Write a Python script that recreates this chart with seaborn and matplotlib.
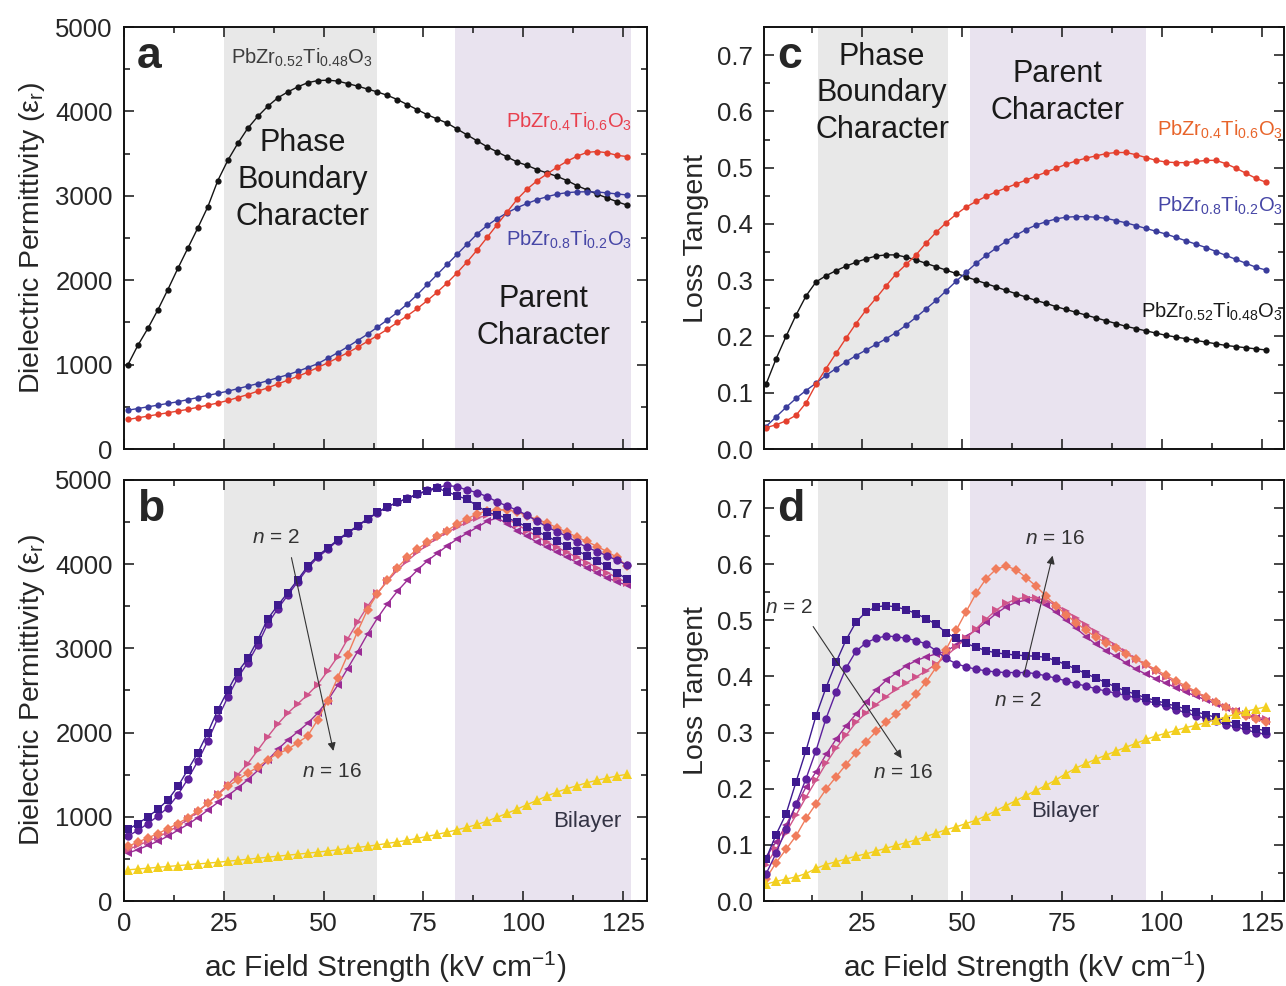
import numpy as np
import pandas as pd
import matplotlib
matplotlib.use("Agg")
import matplotlib.pyplot as plt
from matplotlib.ticker import AutoMinorLocator, MultipleLocator, FormatStrFormatter
import seaborn as sns

# ---------------- data ----------------
field = np.arange(1, 126.1, 2.5)  # ac field strength (kV/cm)

# Panel a: dielectric permittivity of parent films
eps_pzt5248 = [1000, 1230, 1430, 1650, 1890, 2140, 2380, 2620, 2870, 3180, 3420, 3620, 3800, 3940, 4060, 4160, 4230,
               4290, 4340, 4365, 4370, 4360, 4330, 4300, 4265, 4230, 4190, 4140, 4080, 4020, 3960, 3910, 3860, 3790,
               3720, 3650, 3580, 3520, 3460, 3400, 3360, 3310, 3270, 3230, 3180, 3120, 3070, 3020, 2975, 2930, 2890]
eps_pzt4060 = [350, 370, 390, 410, 430, 450, 470, 495, 520, 545, 575, 610, 645, 685, 725, 770, 815, 860, 910, 965,
               1020, 1080, 1140, 1205, 1275, 1345, 1420, 1500, 1580, 1665, 1760, 1860, 1970, 2090, 2220, 2360, 2510,
               2660, 2810, 2960, 3080, 3180, 3260, 3340, 3410, 3470, 3515, 3525, 3510, 3480, 3465]
eps_pzt8020 = [460, 480, 500, 520, 540, 560, 585, 610, 635, 660, 685, 715, 745, 775, 810, 845, 880, 920, 965, 1010,
               1075, 1140, 1210, 1285, 1360, 1445, 1530, 1620, 1720, 1830, 1950, 2070, 2190, 2310, 2430, 2550, 2650,
               2730, 2800, 2860, 2910, 2955, 2990, 3020, 3038, 3046, 3048, 3045, 3035, 3022, 3010]

# Panel c: loss tangent of parent films
tan_pzt5248 = [0.115, 0.160, 0.200, 0.238, 0.272, 0.297, 0.308, 0.317, 0.325, 0.332, 0.338, 0.343, 0.345, 0.345,
               0.341, 0.336, 0.330, 0.324, 0.318, 0.312, 0.306, 0.300, 0.294, 0.288, 0.282, 0.276, 0.270, 0.264,
               0.259, 0.253, 0.248, 0.243, 0.238, 0.233, 0.228, 0.223, 0.218, 0.214, 0.210, 0.206, 0.202, 0.199,
               0.196, 0.193, 0.190, 0.187, 0.184, 0.182, 0.180, 0.178, 0.176]
tan_pzt4060 = [0.038, 0.043, 0.050, 0.060, 0.082, 0.115, 0.143, 0.170, 0.197, 0.223, 0.247, 0.268, 0.290, 0.311,
               0.328, 0.345, 0.366, 0.385, 0.402, 0.417, 0.430, 0.440, 0.449, 0.457, 0.464, 0.471, 0.478, 0.485,
               0.492, 0.499, 0.506, 0.512, 0.517, 0.521, 0.525, 0.527, 0.527, 0.523, 0.518, 0.513, 0.510, 0.509,
               0.509, 0.511, 0.513, 0.513, 0.507, 0.499, 0.490, 0.481, 0.474]
tan_pzt8020 = [0.040, 0.057, 0.074, 0.090, 0.104, 0.117, 0.131, 0.143, 0.155, 0.166, 0.176, 0.186, 0.196, 0.207,
               0.220, 0.234, 0.249, 0.264, 0.281, 0.298, 0.314, 0.330, 0.344, 0.357, 0.369, 0.380, 0.390, 0.398,
               0.404, 0.409, 0.412, 0.413, 0.413, 0.412, 0.410, 0.406, 0.402, 0.397, 0.392, 0.387, 0.382, 0.376,
               0.370, 0.364, 0.358, 0.351, 0.344, 0.337, 0.330, 0.323, 0.318]

# Panel b: dielectric permittivity of superlattices and bilayer
eps_s1 = [850, 920, 1000, 1090, 1200, 1360, 1560, 1760, 2000, 2270, 2500, 2720, 2880, 3100, 3350, 3510, 3660,
          3815, 3975, 4100, 4190, 4290, 4375, 4455, 4540, 4615, 4685, 4735, 4780, 4830, 4870, 4900, 4860, 4810,
          4770, 4690, 4620, 4580, 4550, 4500, 4440, 4390, 4330, 4270, 4215, 4160, 4100, 4040, 3975, 3900, 3820]
eps_s2 = [770, 840, 920, 1010, 1110, 1260, 1450, 1660, 1900, 2170, 2420, 2650, 2830, 3040, 3290, 3470, 3630,
          3790, 3950, 4080, 4175, 4280, 4365, 4450, 4535, 4610, 4680, 4735, 4785, 4835, 4880, 4915, 4935, 4920,
          4880, 4850, 4800, 4740, 4690, 4640, 4580, 4510, 4440, 4385, 4330, 4260, 4200, 4150, 4100, 4045, 3990]
eps_s3 = [570, 610, 660, 710, 770, 840, 910, 990, 1080, 1170, 1250, 1340, 1440, 1550, 1670, 1800, 1910, 2010,
          2110, 2230, 2380, 2560, 2760, 2960, 3170, 3360, 3530, 3680, 3810, 3930, 4040, 4130, 4220, 4300, 4370,
          4440, 4510, 4550, 4480, 4400, 4330, 4260, 4200, 4140, 4080, 4020, 3960, 3900, 3840, 3790, 3750]
eps_s4 = [610, 660, 710, 760, 820, 890, 970, 1060, 1160, 1270, 1380, 1500, 1630, 1790, 1950, 2100, 2230, 2340,
          2450, 2570, 2730, 2900, 3110, 3310, 3500, 3660, 3800, 3930, 4040, 4140, 4230, 4310, 4380, 4440, 4500,
          4550, 4580, 4590, 4540, 4470, 4400, 4330, 4260, 4200, 4140, 4080, 4020, 3960, 3900, 3840, 3780]
eps_s5 = [650, 700, 750, 800, 860, 920, 990, 1070, 1160, 1260, 1360, 1440, 1520, 1590, 1680, 1750, 1800, 1880,
          1960, 2150, 2380, 2650, 2920, 3200, 3460, 3650, 3810, 3960, 4080, 4180, 4260, 4330, 4400, 4480, 4540,
          4600, 4630, 4645, 4645, 4620, 4575, 4530, 4490, 4430, 4380, 4320, 4270, 4210, 4150, 4080, 3975]
eps_bilayer = [370, 380, 390, 400, 410, 420, 430, 440, 450, 460, 472, 484, 496, 508, 520, 532, 544, 556, 568, 580,
               594, 608, 622, 636, 650, 666, 684, 702, 722, 744, 768, 792, 818, 846, 876, 910, 950, 995, 1042,
               1092, 1145, 1197, 1248, 1295, 1335, 1370, 1405, 1435, 1460, 1485, 1505]

# Panel d: loss tangent of superlattices and bilayer
tan_s1 = [0.075, 0.118, 0.155, 0.212, 0.268, 0.330, 0.380, 0.425, 0.465, 0.497, 0.515, 0.524, 0.526, 0.524, 0.519,
          0.512, 0.503, 0.493, 0.478, 0.468, 0.459, 0.452, 0.446, 0.442, 0.440, 0.438, 0.437, 0.436, 0.434, 0.428,
          0.421, 0.413, 0.405, 0.397, 0.389, 0.381, 0.374, 0.368, 0.362, 0.357, 0.352, 0.347, 0.342, 0.337, 0.332,
          0.327, 0.321, 0.316, 0.311, 0.307, 0.303]
tan_s2 = [0.048, 0.085, 0.128, 0.172, 0.218, 0.268, 0.325, 0.372, 0.415, 0.445, 0.460, 0.468, 0.472, 0.471, 0.468,
          0.464, 0.458, 0.446, 0.432, 0.423, 0.417, 0.413, 0.410, 0.408, 0.407, 0.407, 0.407, 0.405, 0.401, 0.397,
          0.392, 0.387, 0.383, 0.378, 0.374, 0.370, 0.366, 0.362, 0.357, 0.352, 0.347, 0.341, 0.335, 0.330, 0.325,
          0.320, 0.314, 0.310, 0.305, 0.300, 0.297]
tan_s3 = [0.078, 0.105, 0.135, 0.170, 0.203, 0.230, 0.261, 0.288, 0.312, 0.333, 0.354, 0.376, 0.393, 0.406, 0.419,
          0.428, 0.435, 0.440, 0.445, 0.456, 0.471, 0.483, 0.497, 0.512, 0.524, 0.532, 0.536, 0.536, 0.527, 0.514,
          0.500, 0.486, 0.471, 0.457, 0.446, 0.436, 0.424, 0.413, 0.404, 0.396, 0.388, 0.380, 0.372, 0.365, 0.358,
          0.351, 0.344, 0.338, 0.332, 0.326, 0.321]
tan_s4 = [0.065, 0.092, 0.122, 0.153, 0.185, 0.215, 0.245, 0.272, 0.295, 0.318, 0.335, 0.350, 0.364, 0.377, 0.388,
          0.399, 0.410, 0.422, 0.436, 0.452, 0.468, 0.485, 0.502, 0.518, 0.530, 0.538, 0.541, 0.540, 0.535, 0.527,
          0.517, 0.504, 0.492, 0.479, 0.467, 0.455, 0.443, 0.431, 0.420, 0.409, 0.399, 0.389, 0.380, 0.371, 0.362,
          0.354, 0.346, 0.339, 0.333, 0.328, 0.324]
tan_s5 = [0.040, 0.068, 0.092, 0.116, 0.147, 0.173, 0.199, 0.221, 0.243, 0.264, 0.283, 0.302, 0.318, 0.333, 0.349,
          0.368, 0.390, 0.416, 0.448, 0.482, 0.515, 0.548, 0.574, 0.591, 0.597, 0.590, 0.576, 0.561, 0.543, 0.526,
          0.510, 0.496, 0.482, 0.470, 0.460, 0.450, 0.440, 0.431, 0.422, 0.412, 0.402, 0.392, 0.383, 0.373, 0.363,
          0.354, 0.345, 0.337, 0.330, 0.324, 0.318]
tan_bilayer = [0.030, 0.035, 0.039, 0.043, 0.049, 0.058, 0.065, 0.070, 0.075, 0.080, 0.084, 0.089, 0.094, 0.099,
               0.104, 0.109, 0.115, 0.121, 0.127, 0.132, 0.138, 0.144, 0.152, 0.161, 0.170, 0.179, 0.188, 0.197,
               0.206, 0.216, 0.227, 0.237, 0.245, 0.253, 0.260, 0.267, 0.274, 0.281, 0.288, 0.294, 0.299, 0.304,
               0.309, 0.313, 0.318, 0.323, 0.328, 0.333, 0.338, 0.342, 0.346]

# shaded regions (kV/cm)
span_pb_eps = (25, 63.5)
span_par_eps = (83, 127)
span_pb_tan = (14, 46.5)
span_par_tan = (52, 96)

# ---------------- style ----------------
sns.set_style("ticks")
plt.rcParams["font.family"] = ["Liberation Sans", "DejaVu Sans"]
plt.rcParams["mathtext.fontset"] = "custom"
plt.rcParams["mathtext.rm"] = "Liberation Sans"
plt.rcParams["mathtext.it"] = "Liberation Sans:italic"
plt.rcParams["mathtext.bf"] = "Liberation Sans:bold"
plt.rcParams["mathtext.default"] = "regular"

C_BLACK = "#141414"
C_RED = "#e4402e"
C_BLUE = "#3a3c9c"
C_GRAY_SPAN = "#e8e8e8"
C_PURP_SPAN = "#e9e3ef"
SL_COLORS = ["#3e1a8f", "#5c209d", "#9b2c95", "#cf548a", "#f07c5c"]
C_BILAYER = "#f2cf1f"
TXT = "#1a1a1a"

fig = plt.figure(figsize=(12.86, 9.86), dpi=100)
axa = fig.add_axes([0.0964, 0.5446, 0.4067, 0.4280])
axb = fig.add_axes([0.0964, 0.0862, 0.4067, 0.4270])
axc = fig.add_axes([0.5941, 0.5446, 0.4044, 0.4280])
axd = fig.add_axes([0.5941, 0.0862, 0.4044, 0.4270])


def draw(ax, y, color, marker, ms):
    df = pd.DataFrame({"field": field, "val": y})
    sns.lineplot(data=df, x="field", y="val", ax=ax, color=color, marker=marker, markersize=ms,
                 markeredgewidth=0, linewidth=1.0, estimator=None, sort=False, legend=False)


def style(ax, ylim, ymajor, xlim, show_x):
    ax.set_xlim(*xlim)
    ax.set_ylim(*ylim)
    ax.xaxis.set_major_locator(MultipleLocator(25))
    ax.xaxis.set_minor_locator(AutoMinorLocator(2))
    ax.yaxis.set_major_locator(MultipleLocator(ymajor))
    ax.yaxis.set_minor_locator(AutoMinorLocator(2))
    ax.tick_params(which="both", direction="in", top=True, right=True, width=1.2, labelsize=18.5, pad=8)
    ax.tick_params(which="major", length=7)
    ax.tick_params(which="minor", length=4)
    for s in ax.spines.values():
        s.set_linewidth(1.4)
        s.set_color("#111111")
    if not show_x:
        ax.tick_params(labelbottom=False)
        ax.set_xlabel("")
    else:
        ax.set_xlabel("ac Field Strength (kV cm$^{-1}$)", fontsize=21.5, labelpad=10)


def sl_panel(ax, curves):
    for yv, c, m in curves:
        draw(ax, yv, c, m, 6 if m != "D" else 5)


# ---- panel a ----
axa.axvspan(*span_pb_eps, color=C_GRAY_SPAN, lw=0, zorder=0)
axa.axvspan(*span_par_eps, color=C_PURP_SPAN, lw=0, zorder=0)
draw(axa, eps_pzt5248, C_BLACK, "o", 4.5)
draw(axa, eps_pzt8020, C_BLUE, "o", 4.5)
draw(axa, eps_pzt4060, C_RED, "o", 4.5)
style(axa, (0, 5000), 1000, (0, 131), False)
axa.set_ylabel("Dielectric Permittivity (ε$_\\mathrm{r}$)", fontsize=20.5, labelpad=6)
axa.yaxis.set_major_formatter(FormatStrFormatter("%d"))
axa.text(0.025, 0.93, "a", transform=axa.transAxes, fontsize=32, fontweight="bold", va="center", ha="left")
axa.text(44.5, 4640, "PbZr$_{0.52}$Ti$_{0.48}$O$_3$", color="#3c3c3c", fontsize=14.5, ha="center", va="center")
axa.text(44.75, 3190, "Phase\nBoundary\nCharacter", fontsize=22, ha="center", va="center", linespacing=1.3,
         color=TXT)
axa.text(105, 1560, "Parent\nCharacter", fontsize=22, ha="center", va="center", linespacing=1.3, color=TXT)
axa.text(127.3, 3880, "PbZr$_{0.4}$Ti$_{0.6}$O$_3$", color="#e8404e", fontsize=14.5, ha="right", va="center")
axa.text(127.3, 2480, "PbZr$_{0.8}$Ti$_{0.2}$O$_3$", color="#4646a6", fontsize=14.5, ha="right", va="center")

# ---- panel b ----
axb.axvspan(*span_pb_eps, color=C_GRAY_SPAN, lw=0, zorder=0)
axb.axvspan(*span_par_eps, color=C_PURP_SPAN, lw=0, zorder=0)
sl_panel(axb, [(eps_s3, SL_COLORS[2], "<"), (eps_s4, SL_COLORS[3], ">"), (eps_s5, SL_COLORS[4], "D"),
               (eps_s2, SL_COLORS[1], "o"), (eps_s1, SL_COLORS[0], "s")])
draw(axb, eps_bilayer, C_BILAYER, "^", 6.5)
style(axb, (0, 5000), 1000, (0, 131), True)
axb.set_ylabel("Dielectric Permittivity (ε$_\\mathrm{r}$)", fontsize=20.5, labelpad=6)
axb.text(0.025, 0.93, "b", transform=axb.transAxes, fontsize=32, fontweight="bold", va="center", ha="left")
axb.text(38, 4320, "$\\mathit{n}$ = 2", fontsize=15, ha="center", va="center", color="#333333")
axb.text(52, 1540, "$\\mathit{n}$ = 16", fontsize=15, ha="center", va="center", color="#333333")
axb.annotate("", xy=(52.6, 1750), xytext=(41.8, 4110),
             arrowprops=dict(arrowstyle="-|>", lw=0.8, color="#333333", mutation_scale=12))
axb.text(116, 940, "Bilayer", fontsize=16, ha="center", va="center", color="#333344")

# ---- panel c ----
axc.axvspan(*span_pb_tan, color=C_GRAY_SPAN, lw=0, zorder=0)
axc.axvspan(*span_par_tan, color=C_PURP_SPAN, lw=0, zorder=0)
draw(axc, tan_pzt5248, C_BLACK, "o", 4.5)
draw(axc, tan_pzt8020, C_BLUE, "o", 4.5)
draw(axc, tan_pzt4060, C_RED, "o", 4.5)
style(axc, (0, 0.75), 0.1, (0.5, 130.5), False)
axc.set_ylabel("Loss Tangent", fontsize=20.5, labelpad=6)
axc.yaxis.set_major_formatter(FormatStrFormatter("%.1f"))
axc.text(0.025, 0.93, "c", transform=axc.transAxes, fontsize=32, fontweight="bold", va="center", ha="left")
axc.text(30, 0.632, "Phase\nBoundary\nCharacter", fontsize=22, ha="center", va="center", linespacing=1.3,
         color=TXT)
axc.text(73.75, 0.634, "Parent\nCharacter", fontsize=22, ha="center", va="center", linespacing=1.3, color=TXT)
axc.text(130.2, 0.567, "PbZr$_{0.4}$Ti$_{0.6}$O$_3$", color="#e8642a", fontsize=14.5, ha="right", va="center")
axc.text(130.2, 0.433, "PbZr$_{0.8}$Ti$_{0.2}$O$_3$", color="#4646a6", fontsize=14.5, ha="right", va="center")
axc.text(130.2, 0.243, "PbZr$_{0.52}$Ti$_{0.48}$O$_3$", color=TXT, fontsize=14.5, ha="right", va="center")

# ---- panel d ----
axd.axvspan(*span_pb_tan, color=C_GRAY_SPAN, lw=0, zorder=0)
axd.axvspan(*span_par_tan, color=C_PURP_SPAN, lw=0, zorder=0)
sl_panel(axd, [(tan_s3, SL_COLORS[2], "<"), (tan_s4, SL_COLORS[3], ">"), (tan_s5, SL_COLORS[4], "D"),
               (tan_s2, SL_COLORS[1], "o"), (tan_s1, SL_COLORS[0], "s")])
draw(axd, tan_bilayer, C_BILAYER, "^", 6.5)
style(axd, (0, 0.75), 0.1, (0.5, 130.5), True)
axd.set_ylabel("Loss Tangent", fontsize=20.5, labelpad=6)
axd.yaxis.set_major_formatter(FormatStrFormatter("%.1f"))
axd.text(0.025, 0.93, "d", transform=axd.transAxes, fontsize=32, fontweight="bold", va="center", ha="left")
axd.text(0.7, 0.522, "$\\mathit{n}$ = 2", fontsize=15, ha="left", va="center", color="#333333")
axd.annotate("", xy=(35.3, 0.250), xytext=(12.4, 0.493),
             arrowprops=dict(arrowstyle="-|>", lw=0.8, color="#333333", mutation_scale=12))
axd.text(35.3, 0.229, "$\\mathit{n}$ = 16", fontsize=15, ha="center", va="center", color="#333333")
axd.text(73.3, 0.645, "$\\mathit{n}$ = 16", fontsize=15, ha="center", va="center", color="#333333")
axd.text(64, 0.357, "$\\mathit{n}$ = 2", fontsize=15, ha="center", va="center", color="#333333")
axd.annotate("", xy=(72.8, 0.620), xytext=(65.3, 0.398),
             arrowprops=dict(arrowstyle="-|>", lw=0.8, color="#333333", mutation_scale=12))
axd.text(75.8, 0.159, "Bilayer", fontsize=16, ha="center", va="center", color="#333344")

fig.savefig("out.png", dpi=100)
